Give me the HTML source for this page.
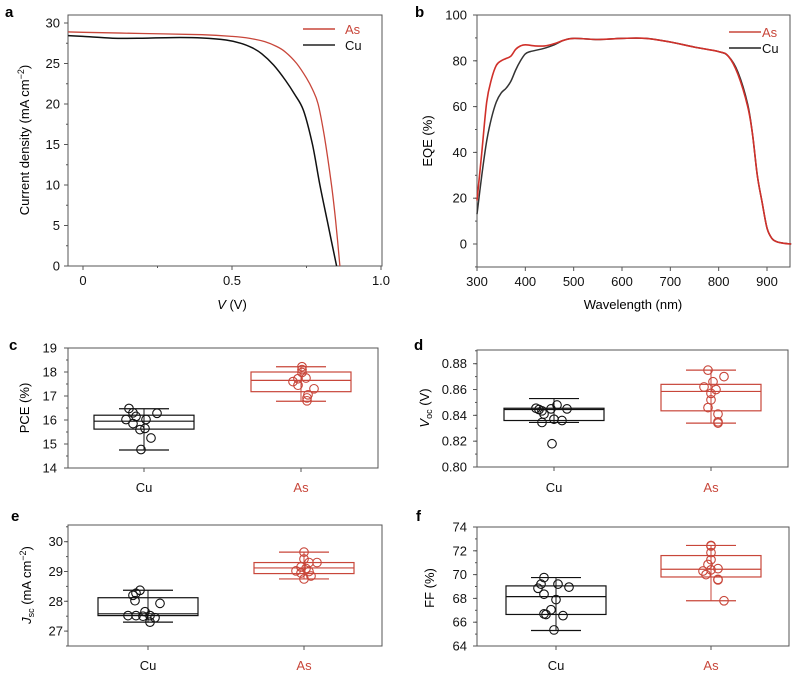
<!DOCTYPE html>
<html><head><meta charset="utf-8"><style>
body{margin:0;background:#fff;}
svg{display:block;font-family:"Liberation Sans",Arial,sans-serif;}
</style></head><body>
<svg id="fig" width="800" height="676" viewBox="0 0 800 676" xmlns="http://www.w3.org/2000/svg">
<text x="5" y="17" font-size="15" font-weight="bold">a</text>
<text x="415" y="17" font-size="15" font-weight="bold">b</text>
<text x="9" y="350" font-size="15" font-weight="bold">c</text>
<text x="414" y="350" font-size="15" font-weight="bold">d</text>
<text x="11" y="521" font-size="15" font-weight="bold">e</text>
<text x="416" y="521" font-size="15" font-weight="bold">f</text>
<text transform="translate(29,140) rotate(-90)" text-anchor="middle" font-size="13">Current density (mA cm<tspan dy="-5" font-size="9">−2</tspan><tspan dy="5">)</tspan></text>
<text x="232" y="309" text-anchor="middle" font-size="13"><tspan font-style="italic">V</tspan> (V)</text>
<text transform="translate(432,141) rotate(-90)" text-anchor="middle" font-size="13">EQE (%)</text>
<text x="633" y="309" text-anchor="middle" font-size="13">Wavelength (nm)</text>
<text transform="translate(29,408) rotate(-90)" text-anchor="middle" font-size="13">PCE (%)</text>
<text transform="translate(429,408) rotate(-90)" text-anchor="middle" font-size="13"><tspan font-style="italic">V</tspan><tspan font-size="9" dy="3">oc</tspan><tspan dy="-3"> (V)</tspan></text>
<text transform="translate(31,585) rotate(-90)" text-anchor="middle" font-size="13"><tspan font-style="italic">J</tspan><tspan font-size="9" dy="3">sc</tspan><tspan dy="-3"> (mA cm</tspan><tspan dy="-5" font-size="9">−2</tspan><tspan dy="5">)</tspan></text>
<text transform="translate(434,588) rotate(-90)" text-anchor="middle" font-size="13">FF (%)</text>
</svg>
<script>
const NS='http://www.w3.org/2000/svg';
const svg=document.getElementById('fig');
const RED='#c8463a';
// ---- panel a data (J-V) ----
const jvVoltsAs=[-0.05,0,0.2,0.4,0.5,0.56,0.61,0.65,0.68,0.717,0.75,0.77,0.789,0.81,0.834,0.848,0.862];
const jvCurAs=[28.9,28.85,28.7,28.55,28.35,28.1,27.7,27.1,26.4,25,23.2,21.8,20,16,10,5.5,0];
const jvVoltsCu=[-0.05,0,0.1,0.2,0.3,0.4,0.48,0.53,0.57,0.6,0.64,0.68,0.71,0.74,0.77,0.795,0.82,0.851];
const jvCurCu=[28.45,28.35,28.12,28.12,28.2,28.15,27.9,27.5,26.9,26.2,24.8,22.9,21.2,19.2,15,10,5.5,0];
const jvXTicks=[0,0.5,1.0];
const jvXTickLabels=['0','0.5','1.0'];
const jvYTicks=[0,5,10,15,20,25,30];
// ---- panel b data (EQE) ----
const eqeWlAs=[300,310,320,330,340,350,360,370,380,390,400,420,440,460,480,500,550,600,650,700,750,800,820,840,860,870,880,890,900,910,920,935,950];
const eqeAs=[19,40,62,72,78,80,81,82,85,86.5,87,86.5,86.5,87.5,89,89.8,89.3,89.8,89.8,88.2,86,84,82,74,60,48,30,18,7,2.5,1,0.3,0];
const eqeWlCu=[300,310,320,330,340,350,360,370,380,390,400,410,440,460,480,500,550,600,650,700,750,800,820,840,860,870,880,890,900,910,920,935,950];
const eqeCu=[13,30,45,55,62,66,68,71,76,80,83,84,85.5,87,89,89.8,89.3,89.8,89.8,88.2,86,84,82,75,61,48,30,18,7,2.5,1,0.3,0];
const eqeXTicks=[300,400,500,600,700,800,900];
const eqeYTicks=[0,20,40,60,80,100];
// ---- box panels ----
const categories=['Cu','As'];
const pceCu=[16.48,16.3,16.15,16.28,16.02,16.02,15.85,15.6,15.65,15.25,14.77];
const pceCuJit=[-15,-11,-8,13,-18,2,-11,-4,1,7,-3];
const pceAs=[18.22,18.1,17.98,17.6,17.72,17.75,17.45,17.3,17.05,16.92,16.8];
const pceAsJit=[1,1,1,-8,-3,5,-3,13,7,6,6];
const pceStatsCu=[14.75,15.62,15.95,16.2,16.47];
const pceStatsAs=[16.78,17.18,17.65,18.0,18.22];
const pceYTicks=[14,15,16,17,18,19];
const vocCu=[0.8455,0.8445,0.8435,0.841,0.845,0.848,0.845,0.837,0.836,0.8345,0.818];
const vocCuJit=[-18,-15,-12,-10,-3,3,13,0,8,-12,-2];
const vocAs=[0.875,0.87,0.866,0.862,0.86,0.857,0.852,0.846,0.841,0.835,0.834];
const vocAsJit=[-3,13,2,-7,5,0,0,-3,7,7,7];
const vocStatsCu=[0.8345,0.836,0.8445,0.8455,0.853];
const vocStatsAs=[0.834,0.8435,0.8585,0.864,0.875];
const vocYTicks=[0.80,0.82,0.84,0.86,0.88];
const jscCu=[28.37,28.27,28.2,28.02,27.93,27.65,27.52,27.52,27.5,27.52,27.45,27.3];
const jscCuJit=[-8,-12,-15,-13,12,-3,-20,-12,-5,2,7,2];
const jscAs=[29.65,29.42,29.3,29.3,29.15,29.1,29.02,29.0,28.95,28.85,28.75];
const jscAsJit=[0,0,13,5,-3,2,-8,5,-3,7,0];
const jscStatsCu=[27.3,27.52,27.58,28.12,28.37];
const jscStatsAs=[28.75,28.93,29.12,29.3,29.65];
const jscYTicks=[27,28,29,30];
const ffCu=[69.75,69.2,69.2,68.95,68.85,68.35,67.9,67.05,66.7,66.65,66.55,65.35];
const ffCuJit=[-12,-15,2,13,-18,-12,0,-5,-12,-10,7,-2];
const ffAs=[72.45,72.4,71.85,71.25,70.85,70.3,70.5,70.4,70.0,69.6,69.55,67.8];
const ffAsJit=[0,0,0,0,-3,-8,7,0,-5,7,7,13];
const ffStatsCu=[65.3,66.65,68.15,69.05,69.75];
const ffStatsAs=[67.8,69.8,70.45,71.6,72.45];
const ffYTicks=[64,66,68,70,72,74];

function mk(tag,attrs,name,parent){
  const el=document.createElementNS(NS,tag);
  for(const k in attrs) el.setAttribute(k,attrs[k]);
  
  
  (parent||svg).appendChild(el);
  return el;
}
function lin(d0,d1,r0,r1){return v=>r0+(v-d0)/(d1-d0)*(r1-r0);}
function frame(p,name){
  mk('rect',{x:p.x0,y:p.y0,width:p.x1-p.x0,height:p.y1-p.y0,fill:'none',stroke:'#555','stroke-width':1},name);
}
function yTicks(p,sy,ticks,minorStep,fmt,labelX,name){
  ticks.forEach(t=>{
    mk('line',{x1:p.x0-4,x2:p.x0,y1:sy(t),y2:sy(t),stroke:'#555'},name+'-tick');
    const tx=mk('text',{x:labelX,y:sy(t)+4.5,'text-anchor':'end','font-size':13,fill:'#111'},name+'-tick-label');
    tx.textContent=fmt(t);
  });
  if(minorStep){
    for(let v=ticks[0]-minorStep*4;v<=ticks[ticks.length-1]+minorStep*4;v+=minorStep){
      const y=sy(v); if(y<p.y0-0.5||y>p.y1+0.5)continue;
      mk('line',{x1:p.x0-2,x2:p.x0,y1:y,y2:y,stroke:'#555'},name+'-minor-tick');
    }
  }
}
function path(xs,ys,sx,sy,color,name,w){
  const P=xs.map((x,i)=>[sx(x),sy(ys[i])]);
  let d='M'+P[0][0].toFixed(1)+','+P[0][1].toFixed(1);
  for(let i=0;i<P.length-1;i++){
    const p0=P[Math.max(0,i-1)],p1=P[i],p2=P[i+1],p3=P[Math.min(P.length-1,i+2)];
    const c1=[p1[0]+(p2[0]-p0[0])/6,p1[1]+(p2[1]-p0[1])/6];
    const c2=[p2[0]-(p3[0]-p1[0])/6,p2[1]-(p3[1]-p1[1])/6];
    d+='C'+c1[0].toFixed(1)+','+c1[1].toFixed(1)+' '+c2[0].toFixed(1)+','+c2[1].toFixed(1)+' '+p2[0].toFixed(1)+','+p2[1].toFixed(1);
  }
  mk('path',{d:d,fill:'none',stroke:color,'stroke-width':w||1.4,'stroke-linejoin':'round'},name);
}
function legend(x,y,txtX,name){
  mk('line',{x1:x,x2:x+32,y1:y,y2:y,stroke:RED,'stroke-width':1.6},name+'-as-line');
  const a=mk('text',{x:txtX,y:y+5,'font-size':13,fill:RED},name+'-as-label'); a.textContent='As';
  mk('line',{x1:x,x2:x+32,y1:y+16,y2:y+16,stroke:'#222','stroke-width':1.6},name+'-cu-line');
  const c=mk('text',{x:txtX,y:y+21,'font-size':13,fill:'#111'},name+'-cu-label'); c.textContent='Cu';
}

// Panel a
(function(){
  const p={x0:68,x1:382,y0:15,y1:266};
  const sx=lin(0,0.5,83,232), sy=lin(0,30,266,23);
  frame(p,'plot-frame-a');
  yTicks(p,sy,jvYTicks,2.5,t=>String(t),60,'y-axis-a');
  jvXTicks.forEach((t,i)=>{
    mk('line',{x1:sx(t),x2:sx(t),y1:p.y1,y2:p.y1+4,stroke:'#555'},'x-axis-a-tick');
    const tx=mk('text',{x:sx(t),y:285,'text-anchor':'middle','font-size':13,fill:'#111'},'x-axis-a-tick-label');
    tx.textContent=jvXTickLabels[i];
  });
  [0.25,0.75].forEach(t=>mk('line',{x1:sx(t),x2:sx(t),y1:p.y1,y2:p.y1+2,stroke:'#555'},'x-axis-a-minor-tick'));
  path(jvVoltsCu,jvCurCu,sx,sy,'#111','jv-curve-cu',1.5);
  path(jvVoltsAs,jvCurAs,sx,sy,RED,'jv-curve-as',1.3);
  legend(303,29,345,'legend-a');
})();

// Panel b
(function(){
  const p={x0:477,x1:790,y0:15,y1:267};
  const sx=lin(300,900,477,767), sy=lin(0,100,244,15);
  frame(p,'plot-frame-b');
  yTicks(p,sy,eqeYTicks,10,t=>String(t),467,'y-axis-b');
  eqeXTicks.forEach(t=>{
    mk('line',{x1:sx(t),x2:sx(t),y1:p.y1,y2:p.y1+4,stroke:'#555'},'x-axis-b-tick');
    const tx=mk('text',{x:sx(t),y:286,'text-anchor':'middle','font-size':13,fill:'#111'},'x-axis-b-tick-label');
    tx.textContent=String(t);
  });
  path(eqeWlCu,eqeCu,sx,sy,'#333','eqe-curve-cu',1.5);
  path(eqeWlAs,eqeAs,sx,sy,'#d0302a','eqe-curve-as',1.6);
  legend(729,32,762,'legend-b');
})();

// Box panels
function boxPanel(cfg){
  const p=cfg.p;
  const sy=lin(cfg.ymin,cfg.ymax,p.y1,p.y0);
  frame(p,'plot-frame-'+cfg.id);
  yTicks(p,sy,cfg.ticks,cfg.minor,cfg.fmt,cfg.labelX,'y-axis-'+cfg.id);
  const groups=[{vals:cfg.cu,jit:cfg.cuJit,st:cfg.stCu,col:'#111',cx:cfg.cx[0]},{vals:cfg.as,jit:cfg.asJit,st:cfg.stAs,col:RED,cx:cfg.cx[1]}];
  groups.forEach((g,gi)=>{
    const nm=cfg.id+'-'+categories[gi].toLowerCase();
    mk('line',{x1:g.cx,x2:g.cx,y1:p.y1,y2:p.y1+4,stroke:'#555'},'x-axis-'+cfg.id+'-tick');
    const tl=mk('text',{x:g.cx,y:cfg.catY,'text-anchor':'middle','font-size':13,fill:gi?RED:'#111'},'category-label-'+nm);
    tl.textContent=categories[gi];
    const s=g.st;
    mk('line',{x1:g.cx,x2:g.cx,y1:sy(s[0]),y2:sy(s[4]),stroke:g.col,'stroke-width':1},'whisker-'+nm);
    mk('line',{x1:g.cx-25,x2:g.cx+25,y1:sy(s[0]),y2:sy(s[0]),stroke:g.col,'stroke-width':1.2},'whisker-cap-low-'+nm);
    mk('line',{x1:g.cx-25,x2:g.cx+25,y1:sy(s[4]),y2:sy(s[4]),stroke:g.col,'stroke-width':1.2},'whisker-cap-high-'+nm);
    mk('rect',{x:g.cx-50,y:sy(s[3]),width:100,height:sy(s[1])-sy(s[3]),fill:'none',stroke:g.col,'stroke-width':1.2},'box-'+nm);
    mk('line',{x1:g.cx-50,x2:g.cx+50,y1:sy(s[2]),y2:sy(s[2]),stroke:g.col,'stroke-width':1.2},'median-'+nm);
    g.vals.forEach((v,i)=>{
      mk('circle',{cx:g.cx+g.jit[i],cy:sy(v),r:4.3,fill:'none',stroke:g.col,'stroke-width':1.1},'point-'+nm);
    });
  });
}
boxPanel({id:'c',p:{x0:68,x1:378,y0:348,y1:468},ymin:14,ymax:19,ticks:pceYTicks,minor:0.5,fmt:t=>String(t),labelX:57,cx:[144,301],catY:492,cu:pceCu,cuJit:pceCuJit,as:pceAs,asJit:pceAsJit,stCu:pceStatsCu,stAs:pceStatsAs});
boxPanel({id:'d',p:{x0:477,x1:788,y0:350,y1:467},ymin:0.80,ymax:0.8906,ticks:vocYTicks,minor:0.01,fmt:t=>t.toFixed(2),labelX:467,cx:[554,711],catY:492,cu:vocCu,cuJit:vocCuJit,as:vocAs,asJit:vocAsJit,stCu:vocStatsCu,stAs:vocStatsAs});
boxPanel({id:'e',p:{x0:68,x1:382,y0:525,y1:646},ymin:26.5,ymax:30.56,ticks:jscYTicks,minor:0.5,fmt:t=>String(t),labelX:63,cx:[148,304],catY:670,cu:jscCu,cuJit:jscCuJit,as:jscAs,asJit:jscAsJit,stCu:jscStatsCu,stAs:jscStatsAs});
boxPanel({id:'f',p:{x0:477,x1:789,y0:527,y1:646},ymin:64,ymax:74,ticks:ffYTicks,minor:1,fmt:t=>String(t),labelX:467,cx:[556,711],catY:670,cu:ffCu,cuJit:ffCuJit,as:ffAs,asJit:ffAsJit,stCu:ffStatsCu,stAs:ffStatsAs});
</script>
</body></html>
